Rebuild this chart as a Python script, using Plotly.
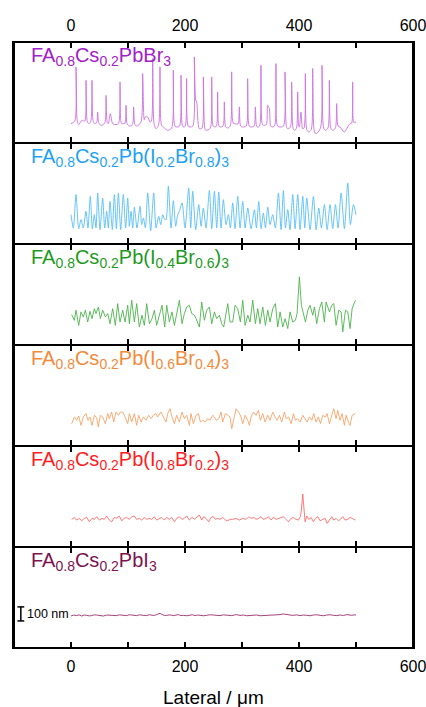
import plotly.graph_objects as go
from plotly.subplots import make_subplots

# ---------------- data (lateral position in um, height in nm) ----------------
labels = [
    "FA<sub>0.8</sub>Cs<sub>0.2</sub>PbBr<sub>3</sub>",
    "FA<sub>0.8</sub>Cs<sub>0.2</sub>Pb(I<sub>0.2</sub>Br<sub>0.8</sub>)<sub>3</sub>",
    "FA<sub>0.8</sub>Cs<sub>0.2</sub>Pb(I<sub>0.4</sub>Br<sub>0.6</sub>)<sub>3</sub>",
    "FA<sub>0.8</sub>Cs<sub>0.2</sub>Pb(I<sub>0.6</sub>Br<sub>0.4</sub>)<sub>3</sub>",
    "FA<sub>0.8</sub>Cs<sub>0.2</sub>Pb(I<sub>0.8</sub>Br<sub>0.2</sub>)<sub>3</sub>",
    "FA<sub>0.8</sub>Cs<sub>0.2</sub>PbI<sub>3</sub>",
]
x_title = "Lateral / \u03bcm"

br100 = [(0,12),(6.5,30),(8.8,417),(11,30),(13.5,5),(19.3,36),(24,30),(26.3,321),(28.6,25),(31.0,12),
         (34.5,25),(36.8,321),(39,25),(41.5,12),(45,20),(46.8,95),(48.6,20),(52.6,0),(59,15),(61.4,214),
         (63.6,20),(65.5,12),(69.0,83),(73.1,12),(78.9,5),(83.5,15),(86.0,309),(88.3,15),(90.6,12),(94.5,15),
         (96.5,143),(98.5,10),(102.3,-5),(107.8,5),(109.9,131),(112,5),(115.2,-5),(122.5,20),(125.7,369),(128.5,40),
         (130.4,60),(134.5,60),(138.6,24),(141,30),(143.3,476),(145.8,10),(149.1,-24),(153.5,0),(156.1,417),(158.8,0),
         (162.0,-12),(169.6,-36),(176.5,-20),(179.5,393),(182.3,-5),(186.0,-12),(190.5,-5),(193.0,357),(195.5,-5),(197.7,-12),
         (200.5,-5),(202.9,333),(205.4,-5),(208.8,-12),(213.8,-5),(216.4,488),(218.8,180),(220.5,167),(225.1,-24),(229.8,-20),
         (232.2,345),(234.7,-20),(236.8,-36),(244.2,-20),(246.8,345),(249.4,-5),(252.6,-12),(255.2,-5),(257.3,238),(259.6,-5),
         (262.6,-12),(266.8,-5),(269.0,167),(271.3,-10),(274.9,-19),(279.3,-5),(281.9,381),(284.6,15),(287.7,12),(293,10),
         (295.3,131),(297.6,-5),(301.2,-12),(307.3,-5),(309.9,333),(312.6,-5),(315.8,-12),(321.3,-5),(323.4,131),(325.5,-5),
         (327.5,-12),(330.8,-5),(333.3,428),(336,5),(339.2,0),(342.8,5),(345.0,143),(347.9,119),(350,0),(352.6,-12),
         (357,-5),(359.6,440),(362.3,-5),(366.7,-12),(372.8,-5),(375.4,381),(378,-10),(380.1,-24),(384.7,-15),(387.1,309),
         (389.5,-20),(391.8,-36),(395.5,-20),(397.7,238),(399.5,-5),(400.6,-12),(403.5,95),(406.4,-24),(408.8,-20),(411.1,369),
         (413.6,-30),(417.0,-48),(421.5,-30),(424.0,405),(426.8,-40),(429.8,-60),(437.6,-20),(440.4,428),(443.2,-20),(446.2,-36),
         (450.7,-20),(453.2,321),(455.8,-20),(459.1,-36),(463.8,-20),(466.1,155),(468.5,-5),(471.9,-12),(479.5,-48),(485.4,-12),
         (489.5,12),(492.3,15),(494.2,309),(496.3,20),(500.0,24)]

i20br80 = [(0,95),(4.1,0),(8.8,238),(13.5,-5),(17.6,60),(21.6,0),(26.3,119),(29.8,0),(33.9,226),(37.4,-5),
           (41.0,95),(43.9,0),(46.8,250),(50.9,-12),(55.6,214),(59.1,0),(62.6,119),(65.5,0),(68.4,190),(72.5,-12),
           (76.1,238),(79.6,-5),(83.1,250),(87.2,-12),(91.8,238),(95.9,0),(99.5,214),(102.4,12),(105.3,119),(108.2,0),
           (111.2,148),(115.8,0),(121.1,155),(124.0,24),(127.0,71),(130.5,0),(134.6,250),(139.8,-19),(145.1,250),(149.2,0),
           (153.9,83),(157.4,24),(160.9,95),(164.4,60),(166.7,60),(170.8,298),(175.5,0),(179.6,195),(183.7,12),(187.2,95),
           (190.1,119),(194.8,179),(200.1,0),(206.5,286),(210.0,0),(213.5,262),(218.8,-12),(224.1,167),(228.2,12),(232.2,143),
           (236.9,0),(242.8,267),(246.9,-5),(251.6,262),(255.6,0),(259.2,257),(263.3,0),(267.3,202),(272.0,24),(276.1,95),
           (279.6,0),(283.7,179),(287.8,-5),(292.5,226),(296.6,0),(301.3,190),(305.4,0),(310.1,143),(315.9,-5),(321.8,131),
           (325.3,0),(329.4,190),(333.5,-5),(337.5,107),(341.1,0),(345.2,148),(349.2,24),(353.9,95),(358.6,0),(363.9,250),
           (368.6,-12),(372.6,267),(376.2,0),(380.3,131),(384.3,-12),(389.0,238),(393.1,-5),(397.8,238),(401.9,-12),(406.6,226),
           (410.1,0),(413.6,214),(419.4,-12),(425.3,226),(430.0,-12),(434.7,143),(439.3,0),(444.6,167),(449.3,-12),(454.5,167),
           (459.2,-5),(463.9,167),(468.6,0),(473.9,250),(479.7,-5),(485.6,321),(490.2,24),(495.5,167),(500.0,95)]

i40br60 = [(1.2,29),(5.9,-12),(8.8,60),(13.5,-48),(17.6,48),(21.6,12),(25.2,60),(29.3,-24),(33.3,52),(36.9,0),
           (41.0,71),(43.9,36),(48.0,83),(51.5,0),(55.6,60),(60.3,12),(64.4,36),(68.4,-36),(73.1,71),(77.8,-48),
           (81.9,107),(86.0,-24),(90.7,60),(94.8,-24),(99.5,95),(102.4,-36),(106.5,131),(111.2,-24),(115.2,107),(119.9,-60),
           (124.6,24),(128.7,-48),(132.8,107),(137.5,-36),(142.2,0),(146.3,60),(150.3,-48),(155.0,24),(159.7,95),(164.4,-60),
           (167.9,95),(172.6,-24),(177.3,48),(181.4,-48),(185.4,36),(190.1,131),(194.8,-36),(198.9,36),(203.0,83),(207.7,95),
           (211.8,36),(216.5,24),(219.4,0),(225.2,-60),(229.3,119),(234.0,-12),(238.1,60),(242.8,83),(246.9,-36),(251.6,48),
           (255.6,0),(260.3,24),(264.4,-36),(267.9,-60),(275.0,107),(279.0,-24),(283.7,-24),(287.8,95),(292.5,71),(297.2,-24),
           (301.3,131),(305.4,-48),(310.1,24),(314.1,-24),(318.8,131),(323.5,-36),(327.6,71),(331.7,-36),(336.4,83),(341.1,-48),
           (345.2,60),(349.2,-24),(353.9,71),(358.6,107),(362.7,-60),(366.8,48),(371.5,-60),(375.6,0),(380.3,-71),(384.3,48),
           (389.0,-24),(393.7,-12),(396.6,36),(400.7,298),(404.2,95),(407.7,36),(411.3,-24),(415.4,60),(419.4,95),(424.1,24),
           (427.1,83),(431.1,-36),(435.8,71),(439.9,119),(444.6,-24),(447.5,119),(453.4,48),(457.5,95),(461.0,107),(465.1,-48),
           (469.8,60),(473.9,48),(476.8,-95),(481.5,60),(485.6,48),(489.6,-71),(493.2,71),(499.0,131)]

i60br40 = [(1.2,-12),(5.9,36),(9.9,12),(13.5,43),(17.6,-24),(21.6,36),(26.3,60),(29.8,12),(33.3,36),(36.9,-24),
           (41.0,48),(45.0,29),(48.0,-36),(51.5,48),(55.6,36),(60.3,-12),(64.4,60),(67.3,24),(71.4,71),(74.9,0),
           (79.0,71),(83.1,48),(86.6,71),(90.7,71),(94.8,36),(99.5,-12),(102.4,60),(106.5,0),(111.2,60),(115.2,-24),
           (118.8,48),(122.9,0),(126.9,36),(131.6,12),(136.3,48),(140.4,24),(144.5,48),(149.2,60),(152.1,36),(158.0,71),
           (162.0,36),(166.7,0),(169.7,60),(173.7,95),(177.3,36),(181.4,-12),(185.4,48),(190.1,0),(194.8,71),(198.9,24),
           (203.0,48),(207.7,-24),(210.6,60),(214.7,-12),(219.4,48),(223.5,60),(227.0,0),(231.1,12),(235.8,0),(239.9,24),
           (243.9,12),(248.6,48),(251.6,36),(254.5,12),(259.2,24),(263.3,71),(266.2,0),(270.9,60),(275.0,48),(279.0,36),
           (282.0,-48),(285.5,24),(289.6,95),(294.3,71),(298.4,36),(301.3,-12),(305.4,48),(310.1,12),(313.0,-24),(315.9,36),
           (320.0,71),(324.7,48),(328.8,83),(332.3,12),(336.4,60),(340.5,0),(345.2,48),(349.2,12),(353.9,71),(358.0,36),
           (361.5,12),(365.6,48),(369.7,0),(374.4,71),(377.3,24),(382.0,36),(386.1,-12),(390.2,60),(393.7,12),(397.8,24),
           (401.9,0),(406.6,48),(410.7,24),(414.2,0),(418.3,36),(422.4,12),(425.9,60),(430.0,0),(434.1,36),(437.6,-12),
           (441.7,48),(445.8,36),(449.3,60),(453.4,-12),(457.5,48),(461.0,95),(465.1,24),(468.0,83),(472.1,12),(475.6,60),
           (479.7,-24),(482.6,48),(486.7,0),(489.6,-24),(493.2,48),(499.0,60)]

i80br20 = [(1.2,0),(5.9,14),(9.9,-5),(14.6,7),(18.7,-10),(23.4,7),(27.5,14),(32.2,-17),(36.9,7),(41.0,0),
           (45.0,19),(49.7,-5),(54.4,7),(58.5,0),(62.6,24),(67.3,-5),(71.4,-17),(76.1,14),(80.1,7),(84.8,24),
           (88.9,-10),(93.6,7),(97.7,14),(102.4,0),(106.5,19),(111.2,24),(115.2,0),(119.9,7),(124.0,-5),(128.7,14),
           (132.8,0),(137.5,7),(141.6,0),(146.3,19),(150.3,-5),(155.0,7),(159.1,14),(163.8,-5),(167.9,14),(172.6,0),
           (176.7,14),(181.4,-17),(185.4,7),(190.1,19),(194.8,0),(198.9,7),(203.0,24),(207.7,-5),(212.4,14),(216.5,0),
           (221.1,19),(225.2,31),(229.3,-5),(232.8,19),(236.9,7),(241.6,-17),(245.7,14),(249.8,19),(253.3,0),(257.4,7),
           (261.5,0),(266.2,14),(270.9,-5),(275.0,-10),(279.0,0),(283.7,0),(289.6,7),(295.4,-5),(301.3,7),(307.1,0),
           (311.8,19),(315.9,7),(320.6,14),(324.7,0),(329.4,7),(333.5,19),(337.5,0),(342.2,7),(346.3,19),(351.0,-5),
           (355.1,14),(359.8,0),(364.5,7),(368.6,14),(372.6,19),(377.3,0),(381.4,-17),(386.1,7),(390.2,14),(394.9,0),
           (399.0,-5),(402.5,19),(404.2,67),(406.6,181),(408.9,67),(410.7,-17),(413.6,24),(417.1,0),(421.2,14),(425.3,-17),
           (428.8,7),(432.9,19),(437.0,-10),(441.7,0),(445.8,7),(449.3,-29),(453.4,0),(457.5,19),(461.0,-5),(465.1,7),
           (469.2,-10),(472.7,0),(476.8,19),(480.9,-5),(485.6,0),(489.6,14),(493.2,7),(499.0,-5)]

i100 = [(0,-5),(4.9,2),(9.9,-2),(14.3,3),(18.7,-5),(23.1,2),(27.5,0),(31.9,-4),(36.3,-2),(40.7,3),
        (45.0,2),(50.9,-3),(56.7,-5),(62.6,2),(68.4,0),(74.3,-4),(80.1,-2),(84.5,3),(88.9,0),(93.3,-4),
        (97.7,-2),(102.1,4),(106.5,2),(110.9,-3),(115.2,-2),(119.6,3),(124.0,2),(128.4,-3),(132.8,-2),(137.2,4),
        (141.6,2),(146.0,-1),(150.3,5),(153.3,9),(156.2,14),(158.5,8),(160.9,5),(164.4,-2),(167.9,0),(173.8,3),
        (179.6,-2),(184.0,1),(188.4,5),(192.8,-2),(197.1,0),(203.0,-3),(208.8,2),(213.2,4),(217.6,-2),(222.0,2),
        (226.4,0),(232.3,-3),(238.1,0),(244.0,4),(249.8,2),(255.7,-2),(261.5,-2),(267.4,3),(273.2,0),(277.6,-4),
        (282.0,-2),(286.4,2),(290.7,5),(296.6,-1),(302.4,2),(308.3,-3),(314.1,0),(320.0,4),(325.8,2),(331.7,-3),
        (337.5,-2),(343.4,3),(349.2,2),(355.1,4),(360.9,7),(366.8,5),(372.6,10),(377.0,6),(381.4,5),(385.8,1),
        (390.2,0),(396.1,3),(401.9,-2),(407.8,2),(413.6,0),(419.5,-3),(425.3,2),(431.2,4),(437.0,0),(442.9,-3),
        (448.7,2),(454.6,4),(460.4,0),(466.3,-2),(472.1,2),(478.0,-1),(483.8,5),(488.2,1),(492.6,0),(496.3,3),
        (500.0,2)]

series = [br100, i20br80, i40br60, i60br40, i80br20, i100]
label_colors = ["#a321c8", "#1ea2f5", "#1f9a1f", "#f28a3a", "#ff1c1c", "#7c1450"]
line_colors = ["#cc70e2", "#55bdf6", "#4cb34c", "#f5a46a", "#ff6a6a", "#9c2e6c"]
line_shapes = ["spline", "spline", "linear", "linear", "linear", "linear"]
line_smoothing = [0.8, 0.7, 0, 0, 0, 0]
y_ranges = [[-126, 594], [-114, 606], [-188, 532], [-171, 549], [-197, 523], [-233, 487]]

x_ticks = [0, 100, 200, 300, 400, 500, 600]
x_ticktext = ["0", "", "200", "", "400", "", "600"]
x_range = [-100, 600]
scalebar_nm = [-40, 60]
scalebar_x = -88

FONT = "Liberation Sans, Arial, sans-serif"

fig = make_subplots(rows=6, cols=1, vertical_spacing=0)

for i, s in enumerate(series):
    xs = [p[0] for p in s]
    ys = [p[1] for p in s]
    line = dict(color=line_colors[i], width=0.9, shape=line_shapes[i])
    if line_shapes[i] == "spline":
        line["smoothing"] = line_smoothing[i]
    fig.add_trace(go.Scatter(x=xs, y=ys, mode="lines", line=line,
                             showlegend=False, hoverinfo="skip"),
                  row=i + 1, col=1)
    n = "" if i == 0 else str(i + 1)
    fig.add_annotation(text=labels[i], xref="paper", yref=f"y{n} domain",
                       x=0.037, y=1.0, xanchor="left", yanchor="top", yshift=0,
                       showarrow=False,
                       font=dict(family=FONT, size=20, color=label_colors[i]))

axis_common = dict(range=x_range, tickvals=x_ticks, ticktext=x_ticktext,
                   ticks="inside", ticklen=6, tickwidth=1.5, tickcolor="black",
                   showline=True, linewidth=1, linecolor="black",
                   mirror="allticks", showgrid=False, zeroline=False, automargin=False,
                   ticklabeloverflow="allow",
                   tickfont=dict(family=FONT, size=16, color="black"))

for i in range(6):
    n = "" if i == 0 else str(i + 1)
    ax = dict(axis_common)
    if i == 0:
        ax.update(side="top", showticklabels=True, ticklabelstandoff=4)
    elif i == 5:
        ax.update(side="bottom", showticklabels=True, ticklabelstandoff=4)
    else:
        ax.update(showticklabels=False)
    fig.layout[f"xaxis{n}"].update(ax)
    fig.layout[f"yaxis{n}"].update(range=y_ranges[i], showticklabels=False,
                                   ticks="", showgrid=False, zeroline=False, automargin=False,
                                   showline=True, linewidth=2, linecolor="black",
                                   mirror=True, fixedrange=True)

# x-axis title
fig.add_annotation(text=x_title, xref="paper", yref="paper", x=0.5, y=0,
                   xanchor="center", yanchor="middle", yshift=-49, showarrow=False,
                   font=dict(family=FONT, size=19, color="black"))

# outer frame
fig.add_shape(type="rect", xref="paper", yref="paper", x0=0, x1=1, y0=0, y1=1,
              line=dict(color="black", width=2))

# 100 nm scale bar in the bottom panel
fig.add_shape(type="line", xref="x6", yref="y6", x0=scalebar_x, x1=scalebar_x,
              y0=scalebar_nm[0], y1=scalebar_nm[1], line=dict(color="black", width=1.5))
for yv in scalebar_nm:
    fig.add_shape(type="line", xref="x6", yref="y6", x0=scalebar_x - 6, x1=scalebar_x + 6,
                  y0=yv, y1=yv, line=dict(color="black", width=1.5))
fig.add_annotation(text="100 nm", xref="x6", yref="y6", x=scalebar_x + 7,
                   y=(scalebar_nm[0] + scalebar_nm[1]) / 2, xanchor="left", yanchor="middle",
                   showarrow=False, font=dict(family=FONT, size=12.5, color="black"))

fig.update_layout(width=426, height=707, margin=dict(l=14, r=13, t=42, b=59),
                  paper_bgcolor="white", plot_bgcolor="white")

fig.write_html("out.html")
